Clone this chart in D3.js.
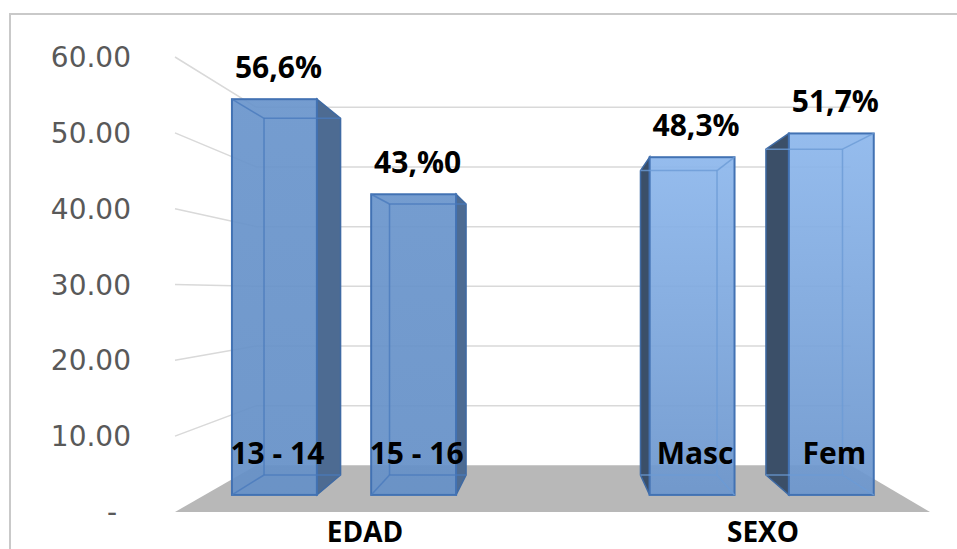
<!DOCTYPE html>
<html>
<head>
<meta charset="utf-8">
<script src="https://cdn.jsdelivr.net/npm/d3@7"></script>
<style>
  html, body { margin: 0; padding: 0; background: #fff; }
  svg { display: block; }
</style>
</head>
<body>
<div id="chart-area"></div>
<script>
// data
const categories = ['13 - 14', '15 - 16', '', 'Masc', 'Fem'];
const values = [56.6, 43.0, null, 48.3, 51.7];
const valueLabels = ['56,6%', '43,%0', '', '48,3%', '51,7%'];
const groups = ['EDAD', 'SEXO'];
const yTicks = [0, 10, 20, 30, 40, 50, 60];

const width = 957;
const height = 549;

// fake 3D: everything is laid out on the front plane and then pulled
// toward a vanishing point by a depth factor
const vp = { x: 557, y: 293 };
const depth = { wall: 0.787, barBack: 0.831, barFront: 0.922, floor: 1 };
const proj = (px, py, f) => [vp.x + (px - vp.x) * f, vp.y + (py - vp.y) * f];

const svg = d3.select('#chart-area')
  .append('svg')
  .attr('width', width)
  .attr('height', height);

// chart border (only top and left visible)
svg.append('path')
  .attr('d', `M10,${height} L10,14 L${width},14`)
  .attr('fill', 'none')
  .attr('stroke', '#c9c9c9')
  .attr('stroke-width', 2);

const x = d3.scaleBand()
  .domain(categories)
  .range([175, 930])
  .paddingInner(0.39)
  .paddingOuter(0.195);

const y = d3.scaleLinear()
  .domain([0, 60])
  .range([512, 57]);

const [x0, x1] = x.range();

// gridlines: side wall + back wall
const line = d3.line();
svg.append('g')
  .selectAll('path')
  .data(yTicks.filter(t => t > 0))
  .join('path')
  .attr('d', t => line([
    proj(x0, y(t), depth.floor),
    proj(x0, y(t), depth.wall),
    proj(x1, y(t), depth.wall)
  ]))
  .attr('fill', 'none')
  .attr('stroke', '#d9d9d9')
  .attr('stroke-width', 1.5);

// floor
svg.append('path')
  .attr('d', line([
    proj(x0, y(0), depth.floor),
    proj(x0, y(0), depth.wall),
    proj(x1, y(0), depth.wall),
    proj(x1, y(0), depth.floor)
  ]) + 'Z')
  .attr('fill', '#b8b8b8');

// y axis labels
svg.append('g')
  .selectAll('text')
  .data(yTicks)
  .join('text')
  .attr('x', t => t === 0 ? 117 : 131)
  .attr('y', t => y(t))
  .attr('dy', '0.36em')
  .attr('text-anchor', 'end')
  .attr('font-family', 'DejaVu Sans, sans-serif')
  .attr('font-size', '28px')
  .attr('fill', '#595959')
  .text(t => t === 0 ? '-' : d3.format('.2f')(t));

// gradients for the bar faces
const defs = svg.append('defs');
const gradLeft = defs.append('linearGradient')
  .attr('id', 'g-left').attr('x1', 0).attr('y1', 0).attr('x2', 0).attr('y2', 1);
gradLeft.append('stop').attr('offset', '0%').attr('stop-color', '#6a95cc');
gradLeft.append('stop').attr('offset', '100%').attr('stop-color', '#6590c7');
const gradRight = defs.append('linearGradient')
  .attr('id', 'g-right').attr('x1', 0).attr('y1', 0).attr('x2', 0).attr('y2', 1);
gradRight.append('stop').attr('offset', '0%').attr('stop-color', '#8db7ec');
gradRight.append('stop').attr('offset', '100%').attr('stop-color', '#6c96cd');

const bars = categories
  .map((c, i) => ({ cat: c, value: values[i], label: valueLabels[i] }))
  .filter(d => d.value != null);

const barG = svg.append('g')
  .selectAll('g')
  .data(bars)
  .join('g');

barG.each(function (d) {
  const g = d3.select(this);
  const bx0 = x(d.cat);
  const bx1 = bx0 + x.bandwidth();
  const yt = y(d.value);
  const yb = y(0);
  const fTL = proj(bx0, yt, depth.barFront), fBR = proj(bx1, yb, depth.barFront);
  const bTL = proj(bx0, yt, depth.barBack), bBR = proj(bx1, yb, depth.barBack);
  const leftOfVp = (bx0 + bx1) / 2 < vp.x;

  // visible side face
  const sx = leftOfVp ? fBR[0] : fTL[0];
  const sxb = leftOfVp ? bBR[0] : bTL[0];
  g.append('path')
    .attr('d', line([[sx, fTL[1]], [sxb, bTL[1]], [sxb, bBR[1]], [sx, fBR[1]]]) + 'Z')
    .attr('fill', leftOfVp ? '#4d6b92' : '#3b4f68')
    .attr('stroke', '#3f6aa3')
    .attr('stroke-width', 1.5);

  // front face
  g.append('rect')
    .attr('x', fTL[0])
    .attr('y', fTL[1])
    .attr('width', fBR[0] - fTL[0])
    .attr('height', fBR[1] - fTL[1])
    .attr('fill', leftOfVp ? 'url(#g-left)' : 'url(#g-right)')
    .attr('fill-opacity', 0.93)
    .attr('stroke', '#4272b3')
    .attr('stroke-width', 2);

  // hidden edges showing through
  const hx = leftOfVp ? fTL[0] : fBR[0];
  const hxb = leftOfVp ? bTL[0] : bBR[0];
  const inner = [
    [[bTL[0], bTL[1]], [bBR[0], bTL[1]]],
    [[bTL[0], bBR[1]], [bBR[0], bBR[1]]],
    [[hxb, bTL[1]], [hxb, bBR[1]]],
    [[hx, fTL[1]], [hxb, bTL[1]]],
    [[hx, fBR[1]], [hxb, bBR[1]]]
  ];
  g.append('g')
    .selectAll('path')
    .data(inner)
    .join('path')
    .attr('d', p => line(p))
    .attr('stroke', leftOfVp ? '#4a7bbd' : '#6b9bd6')
    .attr('stroke-width', 1.5)
    .attr('stroke-opacity', 0.8);

  // value label
  g.append('text')
    .attr('x', (fTL[0] + fBR[0]) / 2 + 4)
    .attr('y', fTL[1] - 32)
    .attr('dy', '0.36em')
    .attr('text-anchor', 'middle')
    .attr('font-family', 'Open Sans, sans-serif')
    .attr('font-weight', 'bold')
    .attr('font-size', '30px')
    .attr('fill', '#000')
    .text(d.label);
});

// category labels sit on top of the bars
svg.append('g')
  .selectAll('text')
  .data(categories.filter(c => c !== ''))
  .join('text')
  .attr('x', c => proj(x(c) + x.bandwidth() / 2, 0, depth.barFront)[0] + 3)
  .attr('y', 453)
  .attr('dy', '0.36em')
  .attr('text-anchor', 'middle')
  .attr('font-family', 'Open Sans, sans-serif')
  .attr('font-weight', 'bold')
  .attr('font-size', '30px')
  .attr('fill', '#000')
  .text(c => c);

// group labels
const groupX = [365, 763];
svg.append('g')
  .selectAll('text')
  .data(groups)
  .join('text')
  .attr('x', (gname, i) => groupX[i])
  .attr('y', 532)
  .attr('dy', '0.36em')
  .attr('text-anchor', 'middle')
  .attr('font-family', 'Open Sans, sans-serif')
  .attr('font-weight', 'bold')
  .attr('font-size', '28px')
  .attr('fill', '#000')
  .text(gname => gname);
</script>
</body>
</html>
